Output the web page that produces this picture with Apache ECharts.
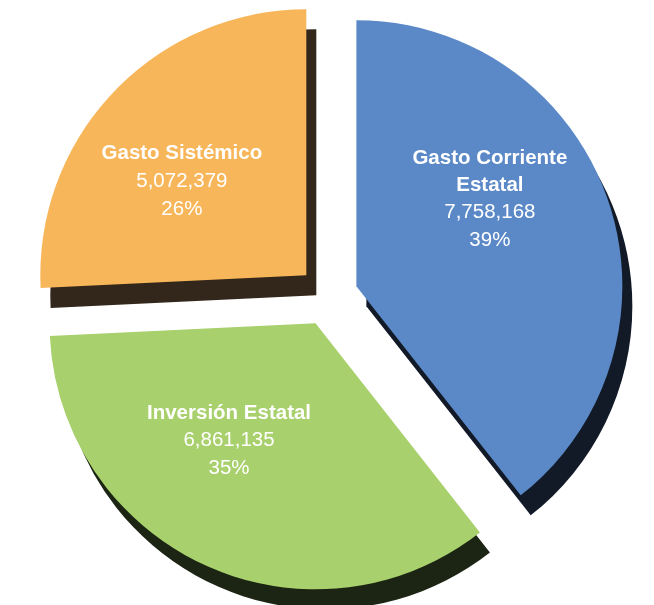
<!DOCTYPE html>
<html>
<head>
<meta charset="utf-8">
<script src="https://cdn.jsdelivr.net/npm/echarts@6/dist/echarts.min.js"></script>
<style>
html,body{margin:0;padding:0;background:#fff;}
#main{width:654px;height:605px;}
</style>
</head>
<body>
<div id="main"></div>
<script>
var categories = ['Gasto Corriente\nEstatal', 'Inversión Estatal', 'Gasto Sistémico'];
var values = [7758168, 6861135, 5072379];

var faceColors = ['#5b89c8', '#a8d06c', '#f8b65a'];
var sideColors = ['#121a27', '#1c2514', '#33261a'];
// nudge labels toward where the original put them
var labelShift = [[5, -42], [-30, -6], [-26, 0]];

function fmt(n) {
    return String(n).replace(/\B(?=(\d{3})+(?!\d))/g, ',');
}

var data = [];
for (var i = 0; i < categories.length; i++) {
    data.push({
        name: categories[i],
        value: values[i],
        selected: true,
        itemStyle: {
            color: faceColors[i],
            shadowColor: sideColors[i],
            shadowOffsetX: 10,
            shadowOffsetY: 20,
            shadowBlur: 0
        }
    });
}

var option = {
    animation: false,
    series: [{
        type: 'pie',
        center: [328, 296],
        radius: 266,
        startAngle: 90,
        clockwise: true,
        selectedMode: 'multiple',
        selectedOffset: 30,
        percentPrecision: 0,
        avoidLabelOverlap: false,
        itemStyle: {borderWidth: 0},
        emphasis: {disabled: true},
        label: {
            position: 'inside',
            color: '#fff',
            fontFamily: 'Liberation Sans, Arial, sans-serif',
            formatter: function (p) {
                return '{n|' + p.name + '}\n{v|' + fmt(p.value) + '}\n{v|' + p.percent + '%}';
            },
            rich: {
                n: {fontSize: 20.5, fontWeight: 'bold', color: '#fff', lineHeight: 27, fontFamily: 'Liberation Sans, Arial, sans-serif'},
                v: {fontSize: 20.5, color: '#fff', lineHeight: 28, fontFamily: 'Liberation Sans, Arial, sans-serif'}
            }
        },
        labelLine: {show: false},
        labelLayout: function (p) {
            return {dx: labelShift[p.dataIndex][0], dy: labelShift[p.dataIndex][1]};
        },
        data: data
    }]
};

var chart = echarts.init(document.getElementById('main'));
chart.setOption(option);
</script>
</body>
</html>
